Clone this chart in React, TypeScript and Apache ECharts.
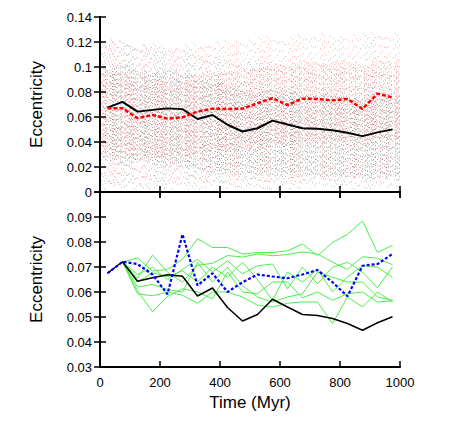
import React, { useEffect, useRef } from "react";
import * as echarts from "echarts";

// Time samples (Myr) of the averaged curves
const times = [25, 75, 125, 175, 225, 275, 325, 375, 425, 475, 525, 575, 625, 675, 725, 775, 825, 875, 925, 975];

// Top panel: mean eccentricity curves
const blackMean = [0.0675, 0.0721, 0.0643, 0.0657, 0.0669, 0.0663, 0.0584, 0.0616, 0.0538, 0.0484, 0.051, 0.0571, 0.054, 0.051, 0.0506, 0.0494, 0.0474, 0.0447, 0.0477, 0.0501];
const redMean = [0.067, 0.067, 0.059, 0.0616, 0.0587, 0.0597, 0.0643, 0.0667, 0.0664, 0.0667, 0.071, 0.075, 0.0696, 0.0747, 0.0744, 0.0733, 0.0744, 0.0664, 0.0787, 0.0757];

// Top panel: particle cloud extents per 50 Myr bin (outer low, core low, core high, outer high)
const blackOuterLo = [0.002, 0.002, 0.002, 0.002, 0.002, 0.002, 0.002, 0.002, 0.002, 0.002, 0.002, 0.002, 0.002, 0.002, 0.002, 0.002, 0.002, 0.002, 0.002, 0.002];
const blackCoreLo = [0.025, 0.022, 0.025, 0.022, 0.02, 0.02, 0.018, 0.016, 0.015, 0.014, 0.014, 0.013, 0.014, 0.013, 0.012, 0.012, 0.012, 0.011, 0.012, 0.012];
const blackCoreHi = [0.1, 0.102, 0.098, 0.096, 0.098, 0.095, 0.09, 0.088, 0.084, 0.082, 0.08, 0.082, 0.08, 0.078, 0.078, 0.077, 0.076, 0.075, 0.076, 0.077];
const blackOuterHi = [0.122, 0.121, 0.118, 0.116, 0.114, 0.113, 0.11, 0.108, 0.106, 0.104, 0.103, 0.102, 0.1, 0.101, 0.099, 0.098, 0.1, 0.097, 0.099, 0.098];
const redOuterLo = [0.006, 0.006, 0.006, 0.006, 0.006, 0.006, 0.007, 0.007, 0.007, 0.008, 0.008, 0.008, 0.008, 0.008, 0.008, 0.008, 0.008, 0.008, 0.008, 0.008];
const redCoreLo = [0.03, 0.03, 0.028, 0.028, 0.027, 0.028, 0.03, 0.032, 0.033, 0.034, 0.036, 0.038, 0.037, 0.04, 0.04, 0.04, 0.04, 0.038, 0.042, 0.042];
const redCoreHi = [0.095, 0.093, 0.088, 0.09, 0.088, 0.09, 0.094, 0.096, 0.097, 0.098, 0.1, 0.104, 0.102, 0.105, 0.104, 0.104, 0.105, 0.1, 0.106, 0.106];
const redOuterHi = [0.12, 0.121, 0.118, 0.119, 0.117, 0.118, 0.119, 0.12, 0.121, 0.122, 0.124, 0.125, 0.124, 0.126, 0.127, 0.125, 0.126, 0.127, 0.128, 0.127];

// Bottom panel
const blueRun = [0.0675, 0.0721, 0.0712, 0.067, 0.0591, 0.0831, 0.0626, 0.0675, 0.06, 0.0639, 0.067, 0.0662, 0.0655, 0.067, 0.0688, 0.0639, 0.0583, 0.0705, 0.0712, 0.0752];
const greenTimes = [75, 125, 175, 225, 275, 325, 375, 425, 475, 525, 575, 625, 675, 725, 775, 825, 875, 925, 975];
const green1 = [0.072, 0.0736, 0.0684, 0.069, 0.0731, 0.0813, 0.0778, 0.0778, 0.0752, 0.0758, 0.0758, 0.0765, 0.0792, 0.0745, 0.0798, 0.0831, 0.0884, 0.0758, 0.0787];
const green2 = [0.072, 0.0655, 0.0748, 0.0679, 0.064, 0.0707, 0.0715, 0.0746, 0.074, 0.0752, 0.0745, 0.075, 0.076, 0.0752, 0.072, 0.069, 0.0741, 0.0735, 0.0709];
const green3 = [0.072, 0.067, 0.0699, 0.0649, 0.069, 0.0731, 0.068, 0.0725, 0.0673, 0.0705, 0.0712, 0.0613, 0.07, 0.0633, 0.0699, 0.0719, 0.068, 0.0617, 0.07];
const green4 = [0.072, 0.064, 0.0677, 0.0661, 0.0685, 0.064, 0.07, 0.0659, 0.0719, 0.065, 0.0567, 0.068, 0.064, 0.0692, 0.06, 0.066, 0.0705, 0.07, 0.0658];
const green5 = [0.072, 0.062, 0.063, 0.061, 0.06, 0.0718, 0.064, 0.0699, 0.0626, 0.058, 0.056, 0.058, 0.0593, 0.068, 0.0659, 0.064, 0.064, 0.058, 0.0567];
const green6 = [0.072, 0.0605, 0.0521, 0.0582, 0.0613, 0.06, 0.0573, 0.068, 0.06, 0.0593, 0.064, 0.064, 0.0577, 0.06, 0.0567, 0.0593, 0.06, 0.056, 0.0565];
const green7 = [0.072, 0.0593, 0.0585, 0.06, 0.0587, 0.0555, 0.06, 0.06, 0.058, 0.0547, 0.054, 0.0555, 0.056, 0.056, 0.0474, 0.058, 0.054, 0.06, 0.056];
const greens = [green1, green2, green3, green4, green5, green6, green7];

// Axis ticks
const xTicks = { min: 0, max: 1000, interval: 200 };
const yTopTicks = { min: 0, max: 0.14, interval: 0.02 };
const yBottomTicks = { min: 0.03, max: 0.1, interval: 0.01 };

const FONT = "'Liberation Sans', Arial, Helvetica, sans-serif";

// Stippling style of the cloud (purely visual)
const outerGaps = [6, 9, 7, 11, 8, 10, 5];
const coreGaps = [3, 4.5, 2.5, 3.5, 5, 2, 4];
const offsets = [0, 4, 1.5, 6, 2.5, 5, 3];

const pairs = (xs: number[], ys: number[]) => xs.map((x, i) => [x, ys[i]]);

function cloudRenderer(color: string, outerOpacity: number, coreOpacity: number, phase: number) {
  return (params: any, api: any) => {
    const t = api.value(0);
    const oLo = api.value(1);
    const cLo = api.value(2);
    const cHi = api.value(3);
    const oHi = api.value(4);
    const w = api.size([50, 0])[0];
    const cx = api.coord([t, 0])[0];
    const yOLo = api.coord([t, oLo])[1];
    const yCLo = api.coord([t, cLo])[1];
    const yCHi = api.coord([t, cHi])[1];
    const yOHi = api.coord([t, oHi])[1];
    const n = outerGaps.length;
    const children: any[] = [];
    for (let k = 0; k < n; k++) {
      const j = (k + params.dataIndex * 3 + phase) % n;
      const x = Math.round(cx - w / 2 + ((k + 0.5) * w) / n + phase) + 0.5;
      children.push({
        type: "line",
        silent: true,
        shape: { x1: x, y1: yOHi, x2: x, y2: yOLo },
        style: { stroke: color, lineWidth: 1, lineDash: [1, outerGaps[j]], lineDashOffset: offsets[(j + 2) % n], opacity: outerOpacity },
      });
      children.push({
        type: "line",
        silent: true,
        shape: { x1: x + 1, y1: yCHi, x2: x + 1, y2: yCLo },
        style: { stroke: color, lineWidth: 1, lineDash: [1, coreGaps[j]], lineDashOffset: offsets[j], opacity: coreOpacity },
      });
    }
    return { type: "group", children };
  };
}

export default function App() {
  const ref = useRef<HTMLDivElement>(null);
  useEffect(() => {
    if (!ref.current) return;
    const chart = echarts.init(ref.current, undefined, { renderer: "svg" });

    const axisLine = { show: true, lineStyle: { color: "#000", width: 2 } };
    const axisTick = { show: true, inside: true, length: 6, lineStyle: { color: "#000", width: 1.5 } };
    const labelStyle = { color: "#000", fontSize: 13, fontFamily: FONT };
    const fmt = (v: number) => String(+v.toFixed(3));

    const blackCloud = times.map((t, i) => [t, blackOuterLo[i], blackCoreLo[i], blackCoreHi[i], blackOuterHi[i]]);
    const redCloud = times.map((t, i) => [t, redOuterLo[i], redCoreLo[i], redCoreHi[i], redOuterHi[i]]);

    chart.setOption({
      animation: false,
      textStyle: { fontFamily: FONT },
      grid: [
        { left: 100, top: 17, width: 300, height: 175, show: false },
        { left: 100, top: 192, width: 300, height: 175, show: false },
      ],
      xAxis: [
        { gridIndex: 0, type: "value", ...xTicks, axisLine, axisTick, axisLabel: { show: false }, splitLine: { show: false } },
        { gridIndex: 0, type: "value", position: "top", ...xTicks, axisLine, axisTick, axisLabel: { show: false }, splitLine: { show: false } },
        {
          gridIndex: 1, type: "value", ...xTicks, axisLine, axisTick,
          axisLabel: { ...labelStyle, margin: 9, formatter: (v: number) => String(v) }, splitLine: { show: false },
          name: "Time (Myr)", nameLocation: "middle", nameGap: 27,
          nameTextStyle: { color: "#000", fontSize: 17, fontFamily: FONT },
        },
        { gridIndex: 1, type: "value", position: "top", ...xTicks, axisLine, axisTick, axisLabel: { show: false }, splitLine: { show: false } },
      ],
      yAxis: [
        {
          gridIndex: 0, type: "value", ...yTopTicks, axisLine, axisTick,
          axisLabel: { ...labelStyle, margin: 8, formatter: fmt }, splitLine: { show: false },
          name: "Eccentricity", nameLocation: "middle", nameGap: 55,
          nameTextStyle: { color: "#000", fontSize: 17, fontFamily: FONT },
        },
        { gridIndex: 0, type: "value", position: "right", ...yTopTicks, axisLine, axisTick, axisLabel: { show: false }, splitLine: { show: false } },
        {
          gridIndex: 1, type: "value", ...yBottomTicks, axisLine, axisTick,
          axisLabel: { ...labelStyle, margin: 8, formatter: (v: number) => (v > 0.0995 ? "" : fmt(v)) }, splitLine: { show: false },
          name: "Eccentricity", nameLocation: "middle", nameGap: 55,
          nameTextStyle: { color: "#000", fontSize: 17, fontFamily: FONT },
        },
        { gridIndex: 1, type: "value", position: "right", ...yBottomTicks, axisLine, axisTick, axisLabel: { show: false }, splitLine: { show: false } },
      ],
      series: [
        { type: "custom", xAxisIndex: 0, yAxisIndex: 0, clip: true, silent: true, renderItem: cloudRenderer("#ff0000", 0.32, 0.3, 0), data: redCloud, z: 1 },
        { type: "custom", xAxisIndex: 0, yAxisIndex: 0, clip: true, silent: true, renderItem: cloudRenderer("#000000", 0.25, 0.32, 1), data: blackCloud, z: 2 },
        { type: "line", xAxisIndex: 0, yAxisIndex: 0, data: pairs(times, blackMean), symbol: "none", lineStyle: { color: "#000", width: 2 }, z: 5 },
        { type: "line", xAxisIndex: 0, yAxisIndex: 0, data: pairs(times, redMean), symbol: "none", lineStyle: { color: "#ff0000", width: 2.5, type: [4, 2] }, z: 6 },
        ...greens.map((g) => ({
          type: "line", xAxisIndex: 2, yAxisIndex: 2, data: pairs(greenTimes, g), symbol: "none",
          lineStyle: { color: "#4cee4c", width: 1 }, z: 3,
        })),
        { type: "line", xAxisIndex: 2, yAxisIndex: 2, data: pairs(times, blackMean), symbol: "none", lineStyle: { color: "#000", width: 1.5 }, z: 5 },
        { type: "line", xAxisIndex: 2, yAxisIndex: 2, data: pairs(times, blueRun), symbol: "none", lineStyle: { color: "#0000ff", width: 2.2, type: [3, 2] }, z: 6 },
      ],
    });
    return () => chart.dispose();
  }, []);
  return <div ref={ref} style={{ position: "fixed", left: 0, top: 0, width: 449, height: 438, background: "#fff" }} />;
}
